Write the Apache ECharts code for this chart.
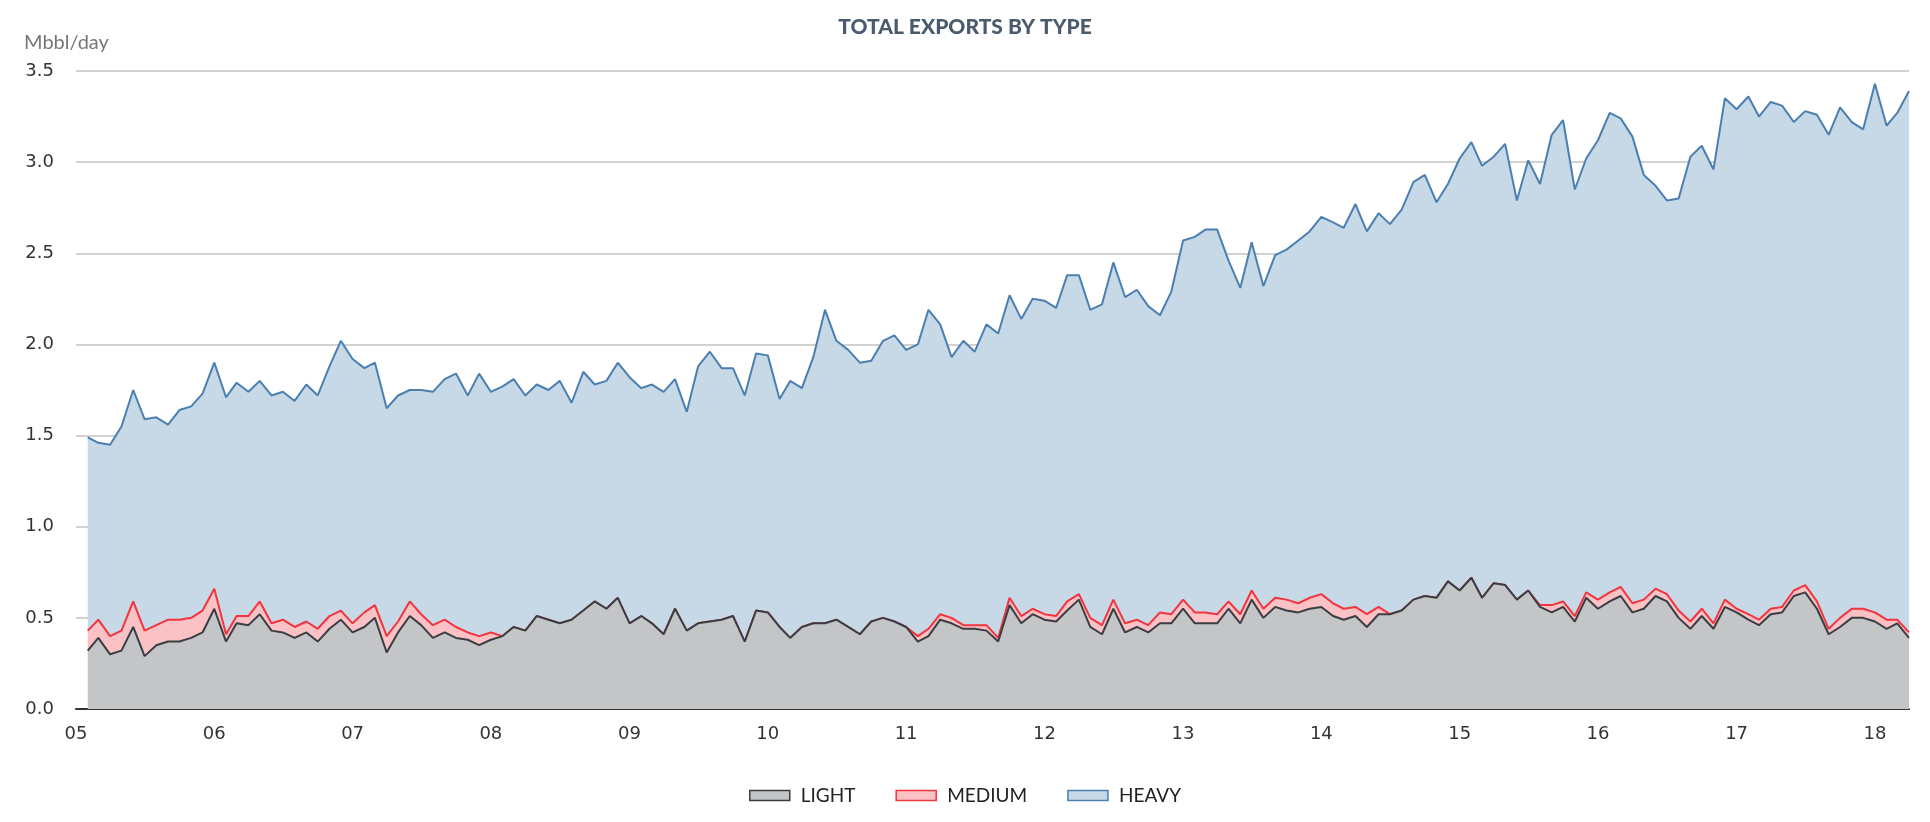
<!DOCTYPE html>
<html>
<head>
<meta charset="utf-8">
<script src="https://cdn.jsdelivr.net/npm/echarts@6/dist/echarts.min.js"></script>
<style>html,body{margin:0;padding:0;background:#fff}#main{width:1930px;height:822px}</style>
</head>
<body>
<div id="main"></div>
<script>
// monthly, Feb 2005 .. Apr 2018
var startYear = 2005, startMonth = 2;
var light = [0.32,0.39,0.30,0.32,0.45,0.29,0.35,0.37,0.37,0.39,0.42,0.55,0.37,0.47,0.46,0.52,0.43,0.42,0.39,0.42,0.37,0.44,0.49,0.42,0.45,0.50,0.31,0.42,0.51,0.46,0.39,0.42,0.39,0.38,0.35,0.38,
  0.40,0.45,0.43,0.51,0.49,0.47,0.49,0.54,0.59,0.55,0.61,0.47,0.51,0.47,0.41,0.55,0.43,0.47,
  0.48,0.49,0.51,0.37,0.54,0.53,0.45,0.39,0.45,0.47,0.47,0.49,0.45,0.41,0.48,0.50,0.48,0.45,0.37,0.40,0.49,0.47,0.44,0.44,0.43,0.37,0.57,0.47,0.52,0.49,0.48,0.54,0.60,0.45,0.41,0.55,0.42,0.45,0.42,0.47,0.47,0.55,0.47,0.47,0.47,0.55,0.47,0.60,0.50,0.56,0.54,0.53,0.55,0.56,0.51,0.49,
  0.51,0.45,0.52,0.52,0.54,0.60,0.62,0.61,0.70,0.65,0.72,0.61,0.69,0.68,0.60,0.65,0.56,0.53,0.56,0.48,0.61,0.55,0.59,0.62,0.53,0.55,0.62,0.59,0.50,0.44,0.51,0.44,0.56,0.53,0.49,0.46,0.52,0.53,0.62,0.64,0.55,0.41,0.45,0.50,0.50,0.48,0.44,0.47,0.39];
var medium = [0.11,0.10,0.10,0.11,0.14,0.14,0.11,0.12,0.12,0.11,0.12,0.11,0.04,0.04,0.05,0.07,0.04,0.07,0.06,0.06,0.07,0.07,0.05,0.05,0.08,0.07,0.09,0.06,0.08,0.06,0.07,0.07,0.06,0.04,0.05,0.04,
  0,0,0,0,0,0,0,0,0,0,0,0,0,0,0,0,0,0,
  0,0,0,0,0,0,0,0,0,0,0,0,0,0,0,0,0,0,0.03,0.04,0.03,0.03,0.02,0.02,0.03,0.02,0.04,0.04,0.03,0.03,0.03,0.05,0.03,0.05,0.05,0.05,0.05,0.04,0.04,0.06,0.05,0.05,0.06,0.06,0.05,0.04,0.05,0.05,0.05,0.05,0.06,0.05,0.06,0.07,0.07,0.06,
  0.05,0.07,0.04,0,0,0,0,0,0,0,0,0,0,0,0,0,0.01,0.04,0.03,0.03,0.03,0.05,0.05,0.05,0.05,0.05,0.04,0.04,0.04,0.04,0.04,0.03,0.04,0.02,0.03,0.03,0.03,0.03,0.03,0.04,0.04,0.03,0.05,0.05,0.05,0.05,0.05,0.02,0.03];
// total exports (top of the stack)
var total = [1.49,1.46,1.45,1.55,1.75,1.59,1.60,1.56,1.64,1.66,1.73,1.90,1.71,1.79,1.74,1.80,1.72,1.74,1.69,1.78,1.72,1.88,2.02,1.92,1.87,1.90,1.65,1.72,1.75,1.75,1.74,1.81,1.84,1.72,1.84,1.74,
  1.77,1.81,1.72,1.78,1.75,1.80,1.68,1.85,1.78,1.80,1.90,1.82,1.76,1.78,1.74,1.81,1.63,1.88,
  1.96,1.87,1.87,1.72,1.95,1.94,1.70,1.80,1.76,1.93,2.19,2.02,1.97,1.90,1.91,2.02,2.05,1.97,2.00,2.19,2.11,1.93,2.02,1.96,2.11,2.06,2.27,2.14,2.25,2.24,2.20,2.38,2.38,2.19,2.22,2.45,2.26,2.30,2.21,2.16,2.29,2.57,2.59,2.63,2.63,2.46,2.31,2.56,2.32,2.49,2.52,2.57,2.62,2.70,2.67,2.64,
  2.77,2.62,2.72,2.66,2.74,2.89,2.93,2.78,2.88,3.02,3.11,2.98,3.03,3.10,2.79,3.01,2.88,3.15,3.23,2.85,3.02,3.12,3.27,3.24,3.14,2.93,2.87,2.79,2.80,3.03,3.09,2.96,3.35,3.29,3.36,3.25,3.33,3.31,3.22,3.28,3.26,3.15,3.30,3.22,3.18,3.43,3.20,3.27,3.39];
var seriesNames = ['LIGHT', 'MEDIUM', 'HEAVY'];

var months = [];
for (var i = 0; i < total.length; i++) {
    var m = startMonth - 1 + i;
    var y = startYear + Math.floor(m / 12);
    months.push(y + '-' + String(m % 12 + 1).padStart(2, '0') + '-01');
}
var heavy = total.map(function (t, i) { return +(t - light[i] - medium[i]).toFixed(3); });
function pairs(arr) { return arr.map(function (v, i) { return [months[i], v]; }); }

var chart = echarts.init(document.getElementById('main'));
var lineColors = ['#3a3d42', '#f2343f', '#4a7fb0'];
var areaColors = ['#c4c5c7', '#fbc2c6', '#c7d9e7'];
var yearMs = 365.25 * 24 * 3600 * 1000;

chart.setOption({
    animation: false,
    title: {
        text: 'TOTAL EXPORTS BY TYPE',
        left: 'center',
        top: 12,
        textStyle: { fontFamily: 'Lato', fontWeight: 900, fontSize: 21, color: '#4b5b6e' }
    },
    grid: { left: 76, right: 21, top: 71, bottom: 113 },
    legend: {
        bottom: 12,
        left: 'center',
        itemWidth: 40,
        itemHeight: 10,
        itemGap: 40,
        icon: 'rect',
        textStyle: { fontFamily: 'Lato', fontSize: 19, color: '#222', padding: [0, 0, 0, 6] },
        data: seriesNames.map(function (n, i) {
            return { name: n, itemStyle: { color: areaColors[i], borderColor: lineColors[i], borderWidth: 1.5 } };
        })
    },
    xAxis: {
        type: 'time',
        min: '2005-01-01',
        max: '2018-04-01',
        minInterval: yearMs,
        maxInterval: yearMs,
        axisLine: { lineStyle: { color: '#333', width: 2 } },
        axisTick: { show: false },
        splitLine: { show: false },
        axisLabel: {
            fontFamily: 'DejaVu Sans', fontSize: 18, color: '#333', margin: 16,
            formatter: function (v) { return String(new Date(v).getFullYear() % 100).padStart(2, '0'); }
        }
    },
    yAxis: {
        type: 'value',
        min: 0, max: 3.5, interval: 0.5,
        name: 'Mbbl/day',
        nameLocation: 'end',
        nameGap: 18,
        nameTextStyle: { fontFamily: 'Lato', fontSize: 20, color: '#777', align: 'left', padding: [0, 0, 0, -52] },
        axisLine: { show: false },
        axisTick: { show: false },
        axisLabel: {
            fontFamily: 'DejaVu Sans', fontSize: 18, color: '#333', margin: 22,
            formatter: function (v) { return v.toFixed(1); }
        },
        splitLine: { lineStyle: { color: 'rgba(120,120,120,0.45)', width: 1.5 } }
    },
    series: [light, medium, heavy].map(function (arr, i) {
        return {
            name: seriesNames[i],
            type: 'line',
            stack: 'exports',
            symbol: 'none',
            data: pairs(arr),
            lineStyle: { color: lineColors[i], width: 2 },
            itemStyle: { color: lineColors[i] },
            areaStyle: { color: areaColors[i], opacity: 1 },
            z: 3 - i
        };
    })
});
</script>
</body>
</html>
